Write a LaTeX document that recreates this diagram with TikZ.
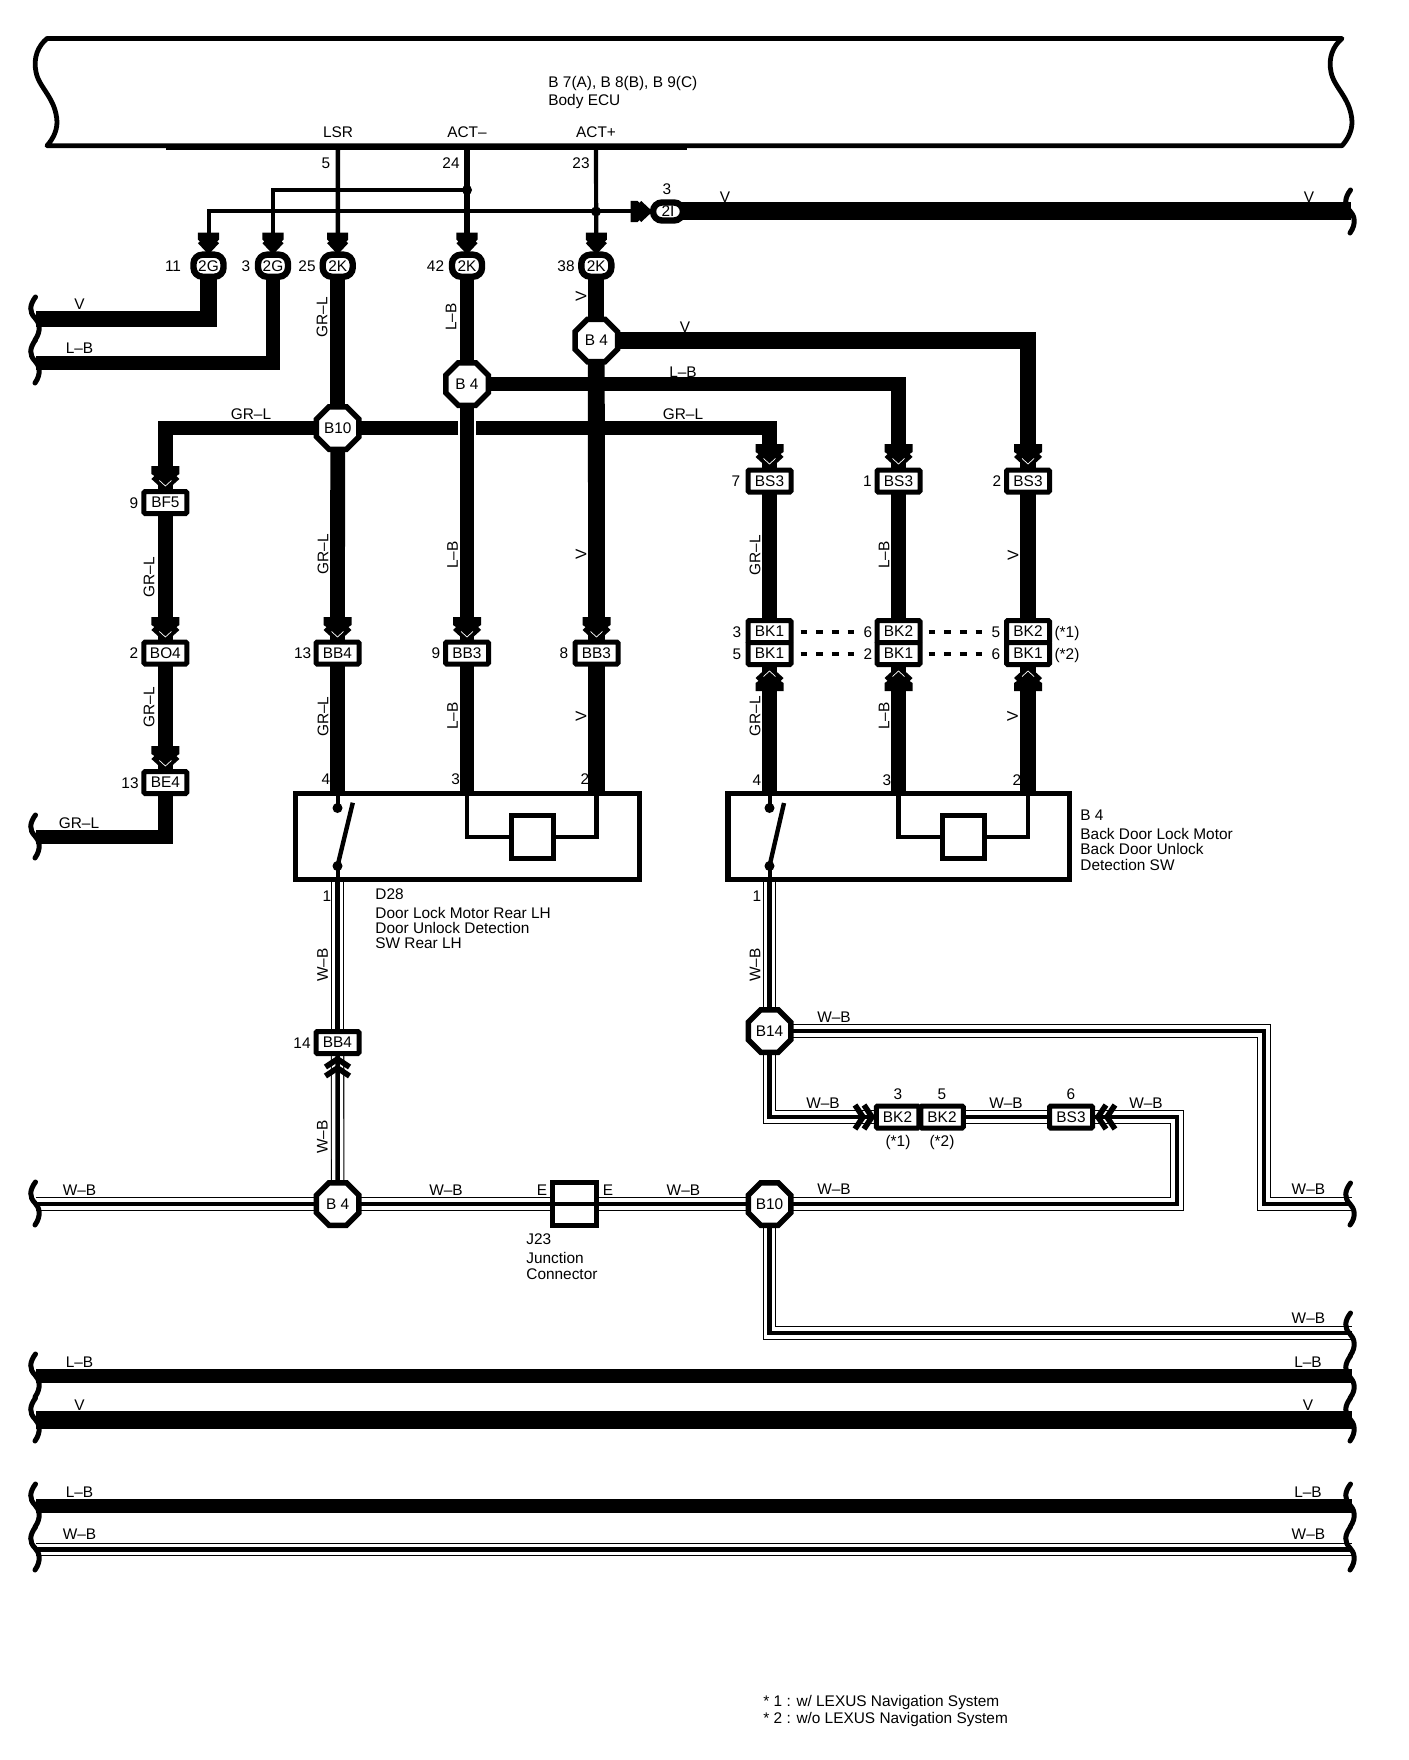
\documentclass[tikz,border=0pt]{standalone}
\usepackage{fontspec}
\setmainfont{Liberation Sans}
\usetikzlibrary{shapes.geometric}
\pgfdeclarelayer{bg}
\pgfsetlayers{bg,main}
\tikzset{
  lbl/.style={inner sep=0pt,font=\fontsize{7.7}{8}\selectfont},
  lbll/.style={lbl,anchor=west},
  octa/.style={regular polygon,regular polygon sides=8,draw,fill=white,line width=2.75pt,minimum size=23pt,inner sep=0pt,font=\fontsize{7.7}{8}\selectfont},
  conn/.style={rectangle,draw,fill=white,line width=2.5pt,rounded corners=0.6pt,minimum width=21.5pt,minimum height=11pt,inner sep=0pt,font=\fontsize{7.7}{8}\selectfont},
  pill/.style={rectangle,draw,fill=white,line width=3.2pt,rounded corners=4.5pt,minimum width=15pt,minimum height=11pt,inner sep=0pt,font=\fontsize{7.7}{8}\selectfont},
  devbox/.style={rectangle,draw,line width=2.75pt,minimum height=43pt,inner sep=0pt},
  motor/.style={rectangle,draw,fill=white,line width=2.5pt,minimum width=21pt,minimum height=21.5pt,inner sep=0pt},
  junc/.style={circle,fill=black,minimum size=5pt,inner sep=0pt},
  brc/.style={line width=2.5pt,line cap=round},
  dashw/.style={line width=2pt,dash pattern=on 3.35pt off 4.5pt},
  thinw/.style={line width=2pt},
  devw/.style={line width=2.2pt},
}
\newcommand\tl[3]{\node[lbl] (#1) at (#2) {#3};}
\newcommand\tw[3]{\node[lbll] (#1) at (#2) {#3};}
\newcommand\tr[3]{\node[lbl,rotate=90] (#1) at (#2) {#3};}
\newcommand\wbw[1]{\draw[line width=6.75pt]#1;\draw[white,line width=5.65pt]#1;\draw[line width=2.25pt]#1;}
\newcommand\thw[2]{\draw[line width=#1pt]#2;}
% big double arrow head: tip at #1, direction by rotation #2
\newcommand\chev[2]{\begin{scope}[shift={(#1)},rotate=#2]
  \fill (-14,-23)--(14,-23)--(14,-15)--(11,-13)--(14,-10)--(3,0)--(-3,0)--(-14,-10)--(-11,-13)--(-14,-15)--cycle;
  \draw[white,line width=.35pt] (-6,-8.5)--(0,-3)--(6,-8.5);
\end{scope}}
\newcommand\chevs[2]{\begin{scope}[shift={(#1)},rotate=#2,xscale=.78,yscale=.88]
  \fill (-13.5,-22)--(13.5,-22)--(13.5,-14)--(11,-12)--(13.5,-10)--(3,0)--(-3,0)--(-13.5,-10)--(-11,-12)--(-13.5,-14)--cycle;
\end{scope}}
\newcommand\chevw[2]{\begin{scope}[shift={(#1)},rotate=#2]
  \draw[line width=2.8pt] (-12,-11)--(0,-3)--(12,-11);
  \draw[line width=2.8pt] (-12,-20)--(0,-12)--(12,-20);
\end{scope}}
\newcommand\wbrace[3]{\draw[brc] (#1+.5,#2) .. controls (#1-5.5,#2+8) and (#1-6,#2+15) .. (#1,#2+21) .. controls (#1+4,#2+25) and (#1+7,#2+33) .. (#1,#3);}
\begin{document}
\begin{tikzpicture}[x=0.5pt,y=-0.5pt,line join=miter]
\useasboundingbox (0,0) rectangle (1408,1760);

% ECU
\draw[line width=2.4pt,line join=round] (47,38.5) -- (1342,38.5)
  .. controls (1333,46) and (1328,58) .. (1331,72)
  .. controls (1334,88) and (1351,98) .. (1352,122)
  .. controls (1352,132) and (1347,140) .. (1342,145.7)
  -- (47,145.7)
  .. controls (52,140) and (57,132) .. (57,122)
  .. controls (56,98) and (39,88) .. (36,72)
  .. controls (33,58) and (38,46) .. (47,38.5) -- cycle;
\coordinate (tka) at (166,148); \coordinate (tkb) at (687,148);
\draw[line width=2pt] (tka) -- (tkb);
\tw{ecua}{548,83.5}{B 7(A), B 8(B), B 9(C)}
\tw{ecub}{548,102}{Body ECU}
\tl{lsr}{338,132}{LSR}
\tl{actm}{467,132}{ACT–}
\tl{actp}{596,132}{ACT+}
\tl{n5}{326,163}{5}
\tl{n24}{451,163}{24}
\tl{n23}{581,163}{23}
\coordinate (eL) at (338,148); \coordinate (eM) at (467,148); \coordinate (eP) at (596,148);

% pills
\node[pill] (g1) at (208.5,265.7) {2G};
\node[pill] (g2) at (273,265.7) {2G};
\node[pill] (k1) at (337.7,265.7) {2K};
\node[pill] (k2) at (467,265.7) {2K};
\node[pill] (k3) at (596.3,265.7) {2K};
\node[pill,minimum height=9pt] (i1) at (668,211.5) {2I};
\tl{p11}{173,266}{11}\tl{p3}{246,266}{3}\tl{p25}{307,266}{25}\tl{p42}{435.5,266}{42}\tl{p38}{566,266}{38}
\tl{p3i}{667,189}{3}

\node[junc] (j1) at (467,190) {};
\node[junc] (j2) at (596,211.5) {};

% octagons
\node[octa] (b10) at (337.7,428) {B10};
\node[octa] (b4a) at (467,384) {B 4};
\node[octa] (b4b) at (596.3,340.5) {B 4};
\node[octa] (b14) at (769.5,1031) {B14};
\node[octa] (b4c) at (337.7,1204) {B 4};
\node[octa] (b10b) at (769.5,1204) {B10};

% connector boxes
\node[conn] (bf5) at (165.4,502.5) {BF5};
\node[conn] (bo4) at (165.4,653) {BO4};
\node[conn] (be4) at (165.4,782.5) {BE4};
\node[conn] (bb4) at (337.5,653) {BB4};
\node[conn] (bb3a) at (467,653) {BB3};
\node[conn] (bb3b) at (596.5,653) {BB3};
\node[conn] (bs3a) at (769.5,481) {BS3};
\node[conn] (bs3b) at (898.5,481) {BS3};
\node[conn] (bs3c) at (1028,481) {BS3};
\node[conn] (bka) at (769.5,631.5) {BK1};
\node[conn] (bkb) at (769.5,653.5) {BK1};
\node[conn] (bkc) at (898.5,631.5) {BK2};
\node[conn] (bkd) at (898.5,653.5) {BK1};
\node[conn] (bke) at (1028,631.5) {BK2};
\node[conn] (bkf) at (1028,653.5) {BK1};
\node[conn] (bbw) at (337.5,1042.5) {BB4};
\node[conn,minimum width=21.25pt] (bkg) at (897.5,1117) {BK2};
\node[conn,minimum width=21.25pt] (bkh) at (942,1117) {BK2};
\node[conn] (bsw) at (1071,1117) {BS3};
\node[rectangle,draw,fill=white,line width=2.75pt,minimum width=22pt,minimum height=21.5pt,inner sep=0pt] (j23) at (574.7,1204) {};
\draw[line width=1.8pt] (j23.west) -- (j23.east);

% device boxes
\node[devbox,minimum width=172pt] (devL) at (467.5,836.7) {};
\node[devbox,minimum width=170.75pt] (devR) at (898.5,836.7) {};
\node[motor] (mL) at (532.5,837) {};
\node[motor] (mR) at (963,837) {};

% coordinates
\coordinate (lt4) at (337.5,794); \coordinate (lt3) at (467,794); \coordinate (lt2) at (596.5,794);
\coordinate (lb1) at (337.5,880);
\coordinate (rt4) at (769.5,794); \coordinate (rt3) at (898.5,794); \coordinate (rt2) at (1028,794);
\coordinate (rb1) at (769.5,880);
\coordinate (lA) at (36,319); \coordinate (lB) at (36,362.7); \coordinate (lC) at (36,836.7);
\coordinate (rV) at (1351,211.5);
\coordinate (lW) at (36,1204);
\coordinate (kA) at (1177,1204); \coordinate (kB) at (1177,1117);
\coordinate (kC) at (1264,1031); \coordinate (kD) at (1264,1204); \coordinate (rW) at (1352,1204);
\coordinate (rX) at (1352,1333);
\coordinate (lr1) at (36,1376); \coordinate (rr1) at (1352,1376);
\coordinate (lr2) at (36,1419.7); \coordinate (rr2) at (1352,1419.7);
\coordinate (lr3) at (36,1505.7); \coordinate (rr3) at (1352,1505.7);
\coordinate (lr4) at (36,1549.5); \coordinate (rr4) at (1352,1549.5);

\begin{pgfonlayer}{bg}
  \thw{2.25}{(eL) -- (k1)}
  \thw{3}{(eM) -- (k2)}
  \thw{2.1}{(eP) -- (k3)}
  \draw[thinw] (j1.center) -| (g2);
  \draw[thinw] (i1) -- (j2.center) -| (g1);
  \thw{9}{(i1.center) -- (rV)}
  \thw{8.4}{(g1.center) |- (lA)}
  \thw{7.2}{(g2.center) |- (lB)}
  \thw{7.4}{(k1.center) -- (b10.center)}
  \thw{7.2}{(b10.center) -| (bf5.center)}
  \thw{7.2}{(b10.center) -| (bs3a.center)}
  \thw{7.2}{(b4a.center) -| (bs3b.center)}
  \thw{8.1}{(b4b.center) -| (bs3c.center)}
  \thw{7.4}{(k2.center) -- (b4a.center)}
  \thw{8}{(k3.center) -- (b4b.center)}
  \draw[white,line width=9.2pt] (467,420) -- (467,436);
  \thw{7.4}{(b10.center) -- (bb4.center)}
  \thw{7.4}{(b4a.center) -- (bb3a.center)}
  \thw{8.4}{(b4b.center) -- (bb3b.center)}
  \thw{7.2}{(bf5.center) -- (bo4.center)}
  \thw{7.2}{(bo4.center) -- (be4.center)}
  \thw{7.2}{(be4.center) |- (lC)}
  \thw{7.4}{(bb4.center) -- (lt4)}
  \thw{7.4}{(bb3a.center) -- (lt3)}
  \thw{8.4}{(bb3b.center) -- (lt2)}
  \thw{7.2}{(bs3a.center) -- (bka.center)}
  \thw{7.2}{(bs3b.center) -- (bkc.center)}
  \thw{8}{(bs3c.center) -- (bke.center)}
  \thw{7.2}{(bkb.center) -- (rt4)}
  \thw{7.2}{(bkd.center) -- (rt3)}
  \thw{8}{(bkf.center) -- (rt2)}
  \thw{7.3}{(lr1) -- (rr1)}
  \thw{9}{(lr2) -- (rr2)}
  \thw{6.8}{(lr3) -- (rr3)}
  \wbw{(lb1) -- (bbw.center)}
  \wbw{(bbw.center) -- (b4c.center)}
  \wbw{(lW) -- (b4c.center)}
  \wbw{(b4c.center) -- (j23.center)}
  \wbw{(j23.center) -- (b10b.center)}
  \wbw{(b10b.center) -- (kA) -- (kB) -- (bsw.center)}
  \wbw{(b10b.center) |- (rX)}
  \wbw{(rb1) -- (b14.center)}
  \wbw{(b14.center) -- (kC) -- (kD) -- (rW)}
  \wbw{(b14.center) |- (bkg.center)}
  \wbw{(bkh.center) -- (bsw.center)}
  \wbw{(lr4) -- (rr4)}
\end{pgfonlayer}

% arrow heads
\chevs{208.5,252}{0}\chevs{273,252}{0}\chevs{337.7,252}{0}\chevs{467,252}{0}\chevs{596.3,252}{0}
\chevs{650,211.5}{90}
\chev{165.4,489}{0}\chev{165.4,640}{0}\chev{165.4,769}{0}
\chev{337.5,640}{0}\chev{467,640}{0}\chev{596.5,640}{0}
\chev{769.5,467}{0}\chev{898.5,467}{0}\chev{1028,467}{0}
\chev{769.5,668}{180}\chev{898.5,668}{180}\chev{1028,668}{180}
\chevw{337.5,1056}{180}
\chevw{875,1117}{90}
\chevw{1095,1117}{-90}

% dashes
\coordinate (da) at (800.5,632); \coordinate (db) at (858,632);
\coordinate (dc) at (800.5,654); \coordinate (dd) at (858,654);
\coordinate (de) at (928.5,632); \coordinate (df) at (986,632);
\coordinate (dg) at (928.5,654); \coordinate (dh) at (986,654);
\draw[dashw] (da) -- (db); \draw[dashw] (dc) -- (dd); \draw[dashw] (de) -- (df); \draw[dashw] (dg) -- (dh);

% inside the devices
\node[junc] (sla) at (337.5,808) {}; \node[junc] (slb) at (337.5,866) {};
\node[junc] (sra) at (769.5,808) {}; \node[junc] (srb) at (769.5,866) {};
\coordinate (bla) at (352.8,802.7); \coordinate (bra) at (784,803);
\draw[line width=2.2pt] (bla) -- (slb.center); \draw[line width=2.2pt] (bra) -- (srb.center);
\draw[thinw] (lt4) -- (sla.center); \draw[thinw] (slb.center) -- (lb1);
\draw[thinw] (rt4) -- (sra.center); \draw[thinw] (srb.center) -- (rb1);
\draw[devw] (lt3) |- (mL); \draw[devw] (mL) -| (lt2);
\draw[devw] (rt3) |- (mR); \draw[devw] (mR) -| (rt2);

% braces
\wbrace{35}{297}{340}\wbrace{35}{340}{383}
\wbrace{35}{815}{858}
\wbrace{35}{1182}{1225}
\wbrace{35}{1354}{1397}\wbrace{35}{1398}{1441}
\wbrace{35}{1484}{1527}\wbrace{35}{1527}{1570}
\wbrace{1350}{190}{233}
\wbrace{1350}{1183}{1225}
\wbrace{1350}{1313}{1356}\wbrace{1350}{1356}{1398}\wbrace{1350}{1398}{1441}
\wbrace{1350}{1484}{1527}\wbrace{1350}{1527}{1570}

% wire labels
\tl{v1}{725,197}{V}\tl{v2}{1309,197}{V}
\tl{v3}{79.5,304}{V}\tl{lb1t}{79.5,348}{L–B}
\tr{gl1}{322,317}{GR–L}\tr{lb2}{451,317}{L–B}\tr{v4}{581,296}{V}
\tl{v5}{685,327}{V}\tl{lb3}{683,372}{L–B}
\tl{gl2}{251,414}{GR–L}\tl{gl3}{683,414}{GR–L}
\tr{gl4}{149,577}{GR–L}\tr{gl5}{149,707}{GR–L}
\tr{gl6}{323,554}{GR–L}\tr{lb4}{452.5,555}{L–B}\tr{v6}{581,554}{V}
\tr{gl7}{323,716.7}{GR–L}\tr{lb5}{452.5,716}{L–B}\tr{v7}{581,716.7}{V}
\tr{gl8}{755,555}{GR–L}\tr{lb6}{884,555}{L–B}\tr{v8}{1013,555}{V}
\tr{gl9}{755,716}{GR–L}\tr{lb7}{884,716}{L–B}\tr{v9}{1012.5,716}{V}
\tl{gl10}{79,823}{GR–L}

% pin numbers
\tl{q1}{134,502.7}{9}\tl{q2}{134,653}{2}\tl{q3}{130,782.7}{13}
\tl{q4}{302.6,653}{13}\tl{q5}{436,653}{9}\tl{q6}{564,653}{8}
\tl{q7}{326,779}{4}\tl{q8}{455.6,779}{3}\tl{q9}{585,779}{2}
\tl{q10}{736,481}{7}\tl{q11}{867.5,481}{1}\tl{q12}{997,481}{2}
\tl{q13}{737,632}{3}\tl{q14}{737,654}{5}
\tl{q15}{868,632}{6}\tl{q16}{868,654}{2}
\tl{q17}{996,632}{5}\tl{q18}{996,654}{6}
\tl{q19}{1067,633.5}{(*1)}\tl{q20}{1067,655.5}{(*2)}
\tl{q21}{757,780}{4}\tl{q22}{887,780}{3}\tl{q23}{1017,780}{2}
\tl{q24}{327,896}{1}\tl{q25}{757,896}{1}
\tl{q26}{302,1042.7}{14}

% W-B labels
\tr{wb1}{322.5,965}{W–B}\tr{wb2}{322.4,1137}{W–B}\tr{wb3}{755,965}{W–B}
\tl{wb4}{834,1017}{W–B}
\tl{wb5}{823,1103.5}{W–B}\tl{wb6}{1006,1103.5}{W–B}\tl{wb7}{1146,1103.5}{W–B}
\tl{q27}{898,1094.6}{3}\tl{q28}{942,1094.6}{5}\tl{q29}{1071,1094.6}{6}
\tl{q30}{898,1143}{(*1)}\tl{q31}{942,1143}{(*2)}
\tl{wb8}{79.5,1190}{W–B}\tl{wb9}{446,1190}{W–B}\tl{wb10}{683.4,1190}{W–B}\tl{wb11}{834,1189}{W–B}\tl{wb12}{1308.4,1189}{W–B}
\tl{e1}{542,1190}{E}\tl{e2}{608,1190}{E}
\tl{wb13}{1308.4,1318}{W–B}
\tl{lb8}{79.5,1362}{L–B}\tl{lb9}{1308,1362}{L–B}
\tl{v10}{79.5,1405}{V}\tl{v11}{1308,1405}{V}
\tl{lb10}{79.5,1492}{L–B}\tl{lb11}{1308,1492}{L–B}
\tl{wb14}{79.5,1534}{W–B}\tl{wb15}{1308.4,1534}{W–B}

% component captions
\tw{c1}{375,894}{D28}
\tw{c2}{375,913}{Door Lock Motor Rear LH}
\tw{c3}{375,928}{Door Unlock Detection}
\tw{c4}{375,943}{SW Rear LH}
\tw{c5}{1080,815}{B 4}
\tw{c6}{1080,834}{Back Door Lock Motor}
\tw{c7}{1080,849}{Back Door Unlock}
\tw{c8}{1080,865}{Detection SW}
\tw{c9}{526,1239}{J23}
\tw{c10}{526,1258}{Junction}
\tw{c11}{526,1274}{Connector}
\tw{f1}{763,1702.7}{* 1 : w/ LEXUS Navigation System}
\tw{f2}{763,1719}{* 2 : w/o LEXUS Navigation System}
\end{tikzpicture}
\end{document}
